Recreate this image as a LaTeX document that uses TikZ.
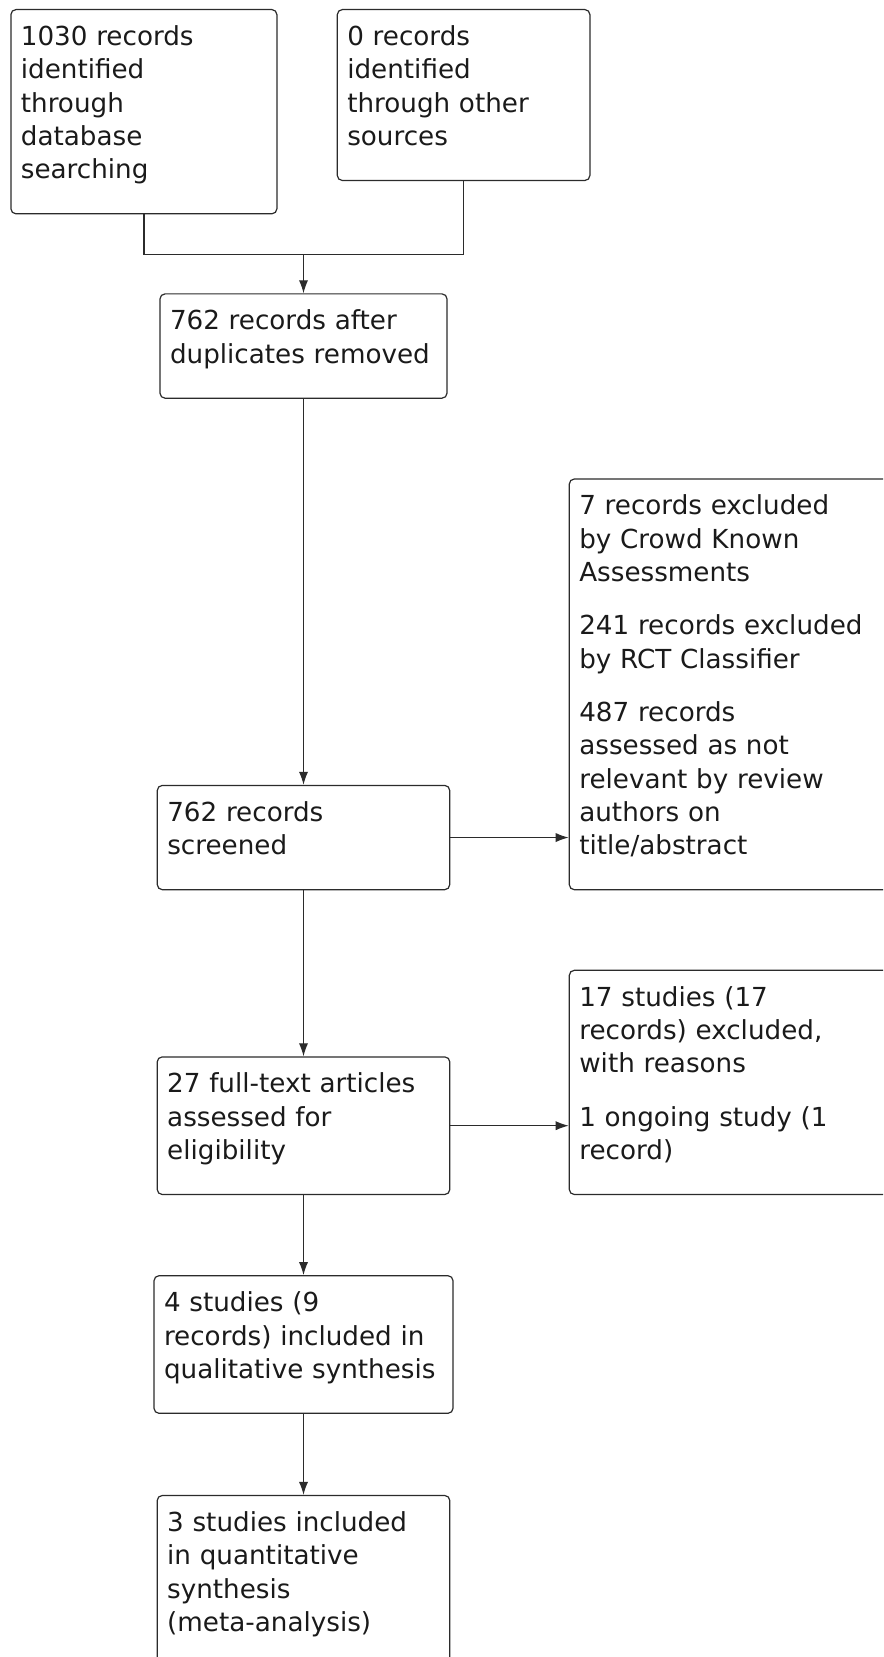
\documentclass[tikz,border=0pt]{standalone}
\usepackage{fontspec}
\setmainfont{DejaVu Sans}
\usetikzlibrary{arrows.meta,positioning}
\definecolor{ink}{HTML}{1A1A1A}
\definecolor{frame}{HTML}{2B2B2B}

\begin{document}
\begin{tikzpicture}[x=0.5pt,y=-0.5pt,
    every node/.style={font=\fontsize{13.1pt}{16.65pt}\selectfont,text=ink},
    prisma/.style={draw=frame,line width=0.6pt,rounded corners=2.5pt,align=left,
      inner xsep=5pt,inner ysep=8pt,
      execute at begin node={\rule{0pt}{10pt}},
      execute at end node={\rule[-9.5pt]{0pt}{9.5pt}}},
    link/.style={draw=frame,line width=0.6pt,-{Latex[length=6.5pt,width=4.6pt]}}]
      \useasboundingbox (0,0) rectangle (883,1657);
      \clip (0,0) rectangle (883,1657);
      \node[prisma,text width=123pt,anchor=north west] (db) at (10.3,9)
        {1030 records\\identified\\through\\database\\searching};
      \node[prisma,text width=116.3pt,anchor=north west] (oth) at (336.7,9)
        {0 records\\identified\\through other\\sources};
      \coordinate (merge) at (303.5,254.3);
      \node[prisma,text width=133.5pt,below=19.5pt of merge] (dup)
        {762 records after\\duplicates removed};
      \node[prisma,text width=136.2pt,below=193pt of dup] (scr)
        {762 records\\screened};
      \coordinate (side) at (568.7,0);
      \node[prisma,text width=160pt,anchor=south west] (exs) at (scr.south -| side)
        {7 records excluded\\by Crowd Known\\Assessments\\[10pt]241 records excluded\\by RCT Classifier\\[10pt]487 records\\assessed as not\\relevant by review\\authors on\\title/abstract};
      \node[prisma,text width=136.3pt,below=83pt of scr] (ft)
        {27 full-text articles\\assessed for\\eligibility};
      \node[prisma,text width=160pt,anchor=south west] (exf) at (ft.south -| side)
        {17 studies (17\\records) excluded,\\with reasons\\[10pt]1 ongoing study (1\\record)};
      \node[prisma,text width=139.5pt,below=40pt of ft] (qual)
        {4 studies (9\\records) included in\\qualitative synthesis};
      \node[prisma,text width=136.3pt,below=40.5pt of qual] (quant)
        {3 studies included\\in quantitative\\synthesis\\(meta-analysis)};
      \draw[draw=frame,line width=0.6pt] (db.south) |- (merge) -| (oth.south);
      \draw[link] (merge)--(dup);
      \draw[link] (dup)--(scr);
      \draw[link] (scr.east)--(scr.east -| exs.west);
      \draw[link] (scr)--(ft);
      \draw[link] (ft.east)--(ft.east -| exf.west);
      \draw[link] (ft)--(qual);
      \draw[link] (qual)--(quant);
    \end{tikzpicture}
\end{document}
